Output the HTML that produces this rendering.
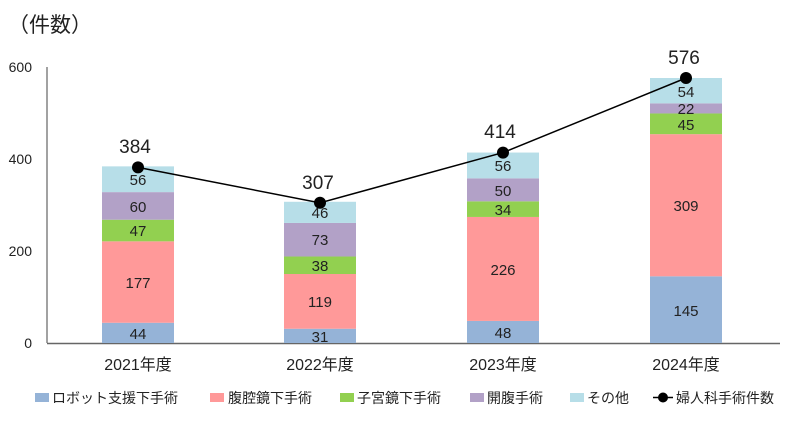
<!DOCTYPE html>
<html><head><meta charset="utf-8"><style>
body{margin:0;background:#fff}
svg{display:block}
text{font-family:"Liberation Sans","Noto Sans CJK JP",sans-serif;fill:#222}
</style></head><body>
<svg width="800" height="423" viewBox="0 0 800 423">
<text x="8" y="32" font-size="21">（件数）</text>
<g font-size="14" text-anchor="end">
<text x="32" y="72">600</text><text x="32" y="164">400</text><text x="32" y="256">200</text><text x="32" y="348">0</text>
</g>
<line x1="47" y1="67" x2="47" y2="343" stroke="#444"/>
<line x1="47" y1="343.5" x2="780" y2="343.5" stroke="#666" stroke-width="1.5"/>
<rect x="102" y="322.76" width="72" height="20.24" fill="#95b3d7"/>
<rect x="102" y="241.34" width="72" height="81.42" fill="#ff9999"/>
<rect x="102" y="219.72" width="72" height="21.62" fill="#92d050"/>
<rect x="102" y="192.12" width="72" height="27.6" fill="#b2a1c7"/>
<rect x="102" y="166.36" width="72" height="25.76" fill="#b7dee8"/>
<rect x="284" y="328.74" width="72" height="14.26" fill="#95b3d7"/>
<rect x="284" y="274" width="72" height="54.74" fill="#ff9999"/>
<rect x="284" y="256.52" width="72" height="17.48" fill="#92d050"/>
<rect x="284" y="222.94" width="72" height="33.58" fill="#b2a1c7"/>
<rect x="284" y="201.78" width="72" height="21.16" fill="#b7dee8"/>
<rect x="467" y="320.92" width="72" height="22.08" fill="#95b3d7"/>
<rect x="467" y="216.96" width="72" height="103.96" fill="#ff9999"/>
<rect x="467" y="201.32" width="72" height="15.64" fill="#92d050"/>
<rect x="467" y="178.32" width="72" height="23" fill="#b2a1c7"/>
<rect x="467" y="152.56" width="72" height="25.76" fill="#b7dee8"/>
<rect x="650" y="276.3" width="72" height="66.7" fill="#95b3d7"/>
<rect x="650" y="134.16" width="72" height="142.14" fill="#ff9999"/>
<rect x="650" y="113.46" width="72" height="20.7" fill="#92d050"/>
<rect x="650" y="103.34" width="72" height="10.12" fill="#b2a1c7"/>
<rect x="650" y="78" width="72" height="25.34" fill="#b7dee8"/>
<g font-size="15" text-anchor="middle">
<text x="138" y="339">44</text><text x="138" y="288">177</text><text x="138" y="236">47</text><text x="138" y="212">60</text><text x="138" y="185">56</text>
<text x="320" y="342">31</text><text x="320" y="307">119</text><text x="320" y="271">38</text><text x="320" y="245">73</text><text x="320" y="218">46</text>
<text x="503" y="338">48</text><text x="503" y="275">226</text><text x="503" y="215">34</text><text x="503" y="196">50</text><text x="503" y="171">56</text>
<text x="686" y="316">145</text><text x="686" y="211">309</text><text x="686" y="130">45</text><text x="686" y="114">22</text><text x="686" y="97">54</text>
</g>
<polyline points="138,167.4 320,202.8 503,152.6 686,78" fill="none" stroke="#000" stroke-width="1.5"/>
<g fill="#000"><circle cx="138" cy="167.4" r="6"/><circle cx="320" cy="202.8" r="6"/><circle cx="503" cy="152.6" r="6"/><circle cx="686" cy="78" r="6"/></g>
<g font-size="19" text-anchor="middle">
<text x="135" y="153">384</text><text x="318" y="189">307</text><text x="500" y="138">414</text><text x="684" y="64">576</text>
</g>
<g font-size="16" text-anchor="middle">
<text x="138" y="370">2021年度</text><text x="320" y="370">2022年度</text><text x="503" y="370">2023年度</text><text x="686" y="370">2024年度</text>
</g>
<g font-size="14">
<rect x="35" y="393" width="14" height="9" fill="#95b3d7"/><text x="52" y="403">ロボット支援下手術</text>
<rect x="210" y="393" width="14" height="9" fill="#ff9999"/><text x="228" y="403">腹腔鏡下手術</text>
<rect x="340" y="393" width="14" height="9" fill="#92d050"/><text x="357" y="403">子宮鏡下手術</text>
<rect x="470" y="393" width="14" height="9" fill="#b2a1c7"/><text x="487" y="403">開腹手術</text>
<rect x="570" y="393" width="14" height="9" fill="#b7dee8"/><text x="587" y="403">その他</text>
<line x1="653" y1="397.5" x2="673" y2="397.5" stroke="#000" stroke-width="1.5"/><circle cx="663" cy="397.5" r="5" fill="#000"/>
<text x="676" y="403">婦人科手術件数</text>
</g>
</svg>
</body></html>
